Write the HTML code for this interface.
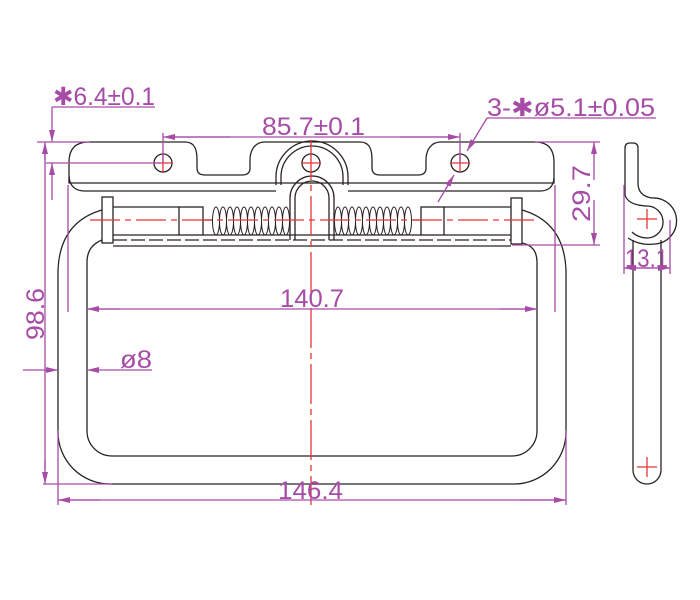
<!DOCTYPE html>
<html><head><meta charset="utf-8"><style>
html,body{margin:0;padding:0;background:#fff;}
svg{display:block}
text{font-family:"Liberation Sans","DejaVu Sans",sans-serif;fill:#a64ca6;}
</style></head><body>
<svg width="700" height="600" viewBox="0 0 700 600" xmlns="http://www.w3.org/2000/svg">
<defs>
<marker id="a" viewBox="0 0 12 6" refX="12" refY="3" markerWidth="12" markerHeight="6" markerUnits="userSpaceOnUse" orient="auto-start-reverse">
<path d="M0,0 L12,3 L0,6 Z" fill="#a64ca6"/></marker>
</defs>
<g fill="none" stroke="#2a2323" stroke-width="1.3">
<path d="M69,183 L69,162 Q69,142 89,142 L185,142 C195,142 197,150 197,160 L197,168 Q197,175 205,175 L242,175 Q250,175 250,168 L250,160 C250,150 255,142 265,142 L360,142 C370,142 372,150 372,160 L372,168 Q372,175 380,175 L418,175 Q426,175 426,168 L426,160 C426,150 431,142 441,142 L535,142 Q554,142 554,162 L554,183 Z"/>
<path d="M69,176 Q70,191 85,191 L276,191 M348,191 L540,191 Q553,191 554,178"/>
<path d="M276,185 L276,177 A36,36 0 0 1 348,177 L348,185"/>
<path d="M281,185 L281,177 A31,31 0 0 1 343,177 L343,185"/>
<path d="M290,240 L290,198 A22,22 0 0 1 334,198 L334,240"/>
<path d="M295,240 L295,198 A17,17 0 0 1 329,198 L329,240"/>
<circle cx="163" cy="163" r="9"/><circle cx="311" cy="163" r="9"/><circle cx="460" cy="163" r="9"/>
<rect x="102" y="197" width="11" height="46"/>
<rect x="511" y="198" width="11" height="46"/>
<path d="M113,207 L179,207 M113,235 L179,235"/>
<rect x="179" y="207" width="24" height="28"/>
<rect x="421" y="207" width="23" height="28"/>
<path d="M444,207 L511,207 M444,235 L511,235"/>
<path d="M203,220 L212,220 M413,220 L421,220"/>
<path d="M113,246 L511,246 M203,235 L421,235"/>
<path d="M113,240 L511,240" stroke-dasharray="14,4"/>
<g stroke-width="1">
<ellipse cx="216" cy="221" rx="3.5" ry="14"/><ellipse cx="223" cy="221" rx="3.5" ry="14"/><ellipse cx="230" cy="221" rx="3.5" ry="14"/><ellipse cx="237" cy="221" rx="3.5" ry="14"/><ellipse cx="244" cy="221" rx="3.5" ry="14"/><ellipse cx="251" cy="221" rx="3.5" ry="14"/><ellipse cx="258" cy="221" rx="3.5" ry="14"/><ellipse cx="265" cy="221" rx="3.5" ry="14"/><ellipse cx="272" cy="221" rx="3.5" ry="14"/><ellipse cx="279" cy="221" rx="3.5" ry="14"/><ellipse cx="286" cy="221" rx="3.5" ry="14"/>
<ellipse cx="338" cy="221" rx="3.5" ry="14"/><ellipse cx="345" cy="221" rx="3.5" ry="14"/><ellipse cx="352" cy="221" rx="3.5" ry="14"/><ellipse cx="359" cy="221" rx="3.5" ry="14"/><ellipse cx="366" cy="221" rx="3.5" ry="14"/><ellipse cx="373" cy="221" rx="3.5" ry="14"/><ellipse cx="380" cy="221" rx="3.5" ry="14"/><ellipse cx="387" cy="221" rx="3.5" ry="14"/><ellipse cx="394" cy="221" rx="3.5" ry="14"/><ellipse cx="401" cy="221" rx="3.5" ry="14"/><ellipse cx="408" cy="221" rx="3.5" ry="14"/>
</g>
<path d="M102,210 Q60,222 58,270 L58,432 A52,52 0 0 0 110,484 L514,484 A52,52 0 0 0 566,432 L566,270 Q564,222 522,210"/>
<path d="M102,240 Q87,246 87,262 L87,431 A25,25 0 0 0 112,456 L512,456 A25,25 0 0 0 537,431 L537,262 Q537,246 522,243"/>
<path d="M625,195 L625,148 Q625,143 630,143 L633,143 Q638,143 638,148 L638,183 Q638,196 652,198 A23,23 0 0 1 655,244 Q640,246 628,238"/>
<path d="M625,195 Q628,205 646,206 A16,16 0 0 1 648,238 Q638,238 632,232"/>
<path d="M633,240 L633,470 A14,14 0 0 0 661,470 L661,240"/>
</g>
<g stroke="#e83535" stroke-width="1.3" fill="none">
<path d="M311,140 L311,505" stroke-dasharray="40,5,6,5"/>
<path d="M90,220 L537,220" stroke-dasharray="30,5,6,5"/>
<path d="M153,163 H173 M163,153 V173 M301,163 H321 M450,163 H470 M460,153 V173 M637,219 H657 M647,209 V229 M637,467 H657 M647,457 V477"/>
</g>
<g stroke="#a64ca6" stroke-width="1.3" fill="none">
<path d="M163,133 V163 M460,133 V163"/>
<path d="M175,137 H448" />
<path d="M230,137 L163,137" marker-end="url(#a)"/><path d="M400,137 L460,137" marker-end="url(#a)"/>
<path d="M52,107 H155 M52,107 V142" marker-end="url(#a)"/>
<path d="M52,200 V163" marker-end="url(#a)"/>
<path d="M37,142 H90 M46,163 H160"/>
<path d="M45,160 V142" marker-end="url(#a)"/><path d="M45,460 V484" marker-end="url(#a)"/><path d="M45,150 V470"/>
<path d="M43,484 H112"/>
<path d="M68,185 V312 M555,185 V312"/>
<path d="M87,309 H537"/><path d="M120,309 L87,309" marker-end="url(#a)"/><path d="M500,309 L537,309" marker-end="url(#a)"/>
<path d="M23,370 H58" marker-end="url(#a)"/><path d="M152,370 H87" marker-end="url(#a)"/>
<path d="M58,430 V505 M566,430 V505"/>
<path d="M58,500 H566"/><path d="M100,500 L58,500" marker-end="url(#a)"/><path d="M520,500 L566,500" marker-end="url(#a)"/>
<path d="M535,142 H600 M512,245 H600"/>
<path d="M594,180 V142" marker-end="url(#a)"/><path d="M594,200 V245" marker-end="url(#a)"/>
<path d="M487,118 H656"/>
<path d="M487,118 L467,151" marker-end="url(#a)"/><path d="M438,202 L454,175" marker-end="url(#a)"/>
<path d="M624,185 V274 M670,220 V274"/>
<path d="M624,268 H670"/><path d="M650,268 L624,268" marker-end="url(#a)"/><path d="M645,268 L670,268" marker-end="url(#a)"/>
</g>
<g font-size="25">
<text x="53" y="105" textLength="102" lengthAdjust="spacingAndGlyphs">✱6.4±0.1</text>
<text x="262" y="135" textLength="103" lengthAdjust="spacingAndGlyphs">85.7±0.1</text>
<text x="487" y="116" textLength="168" lengthAdjust="spacingAndGlyphs">3-✱ø5.1±0.05</text>
<text x="280" y="307" textLength="64" lengthAdjust="spacingAndGlyphs">140.7</text>
<text x="120" y="368" textLength="32" lengthAdjust="spacingAndGlyphs">ø8</text>
<text x="278" y="499" textLength="65" lengthAdjust="spacingAndGlyphs">146.4</text>
<text x="625" y="267" textLength="43" lengthAdjust="spacingAndGlyphs">13.1</text>
<text transform="translate(44,340) rotate(-90)" textLength="52" lengthAdjust="spacingAndGlyphs">98.6</text>
<text transform="translate(590,222) rotate(-90)" textLength="57" lengthAdjust="spacingAndGlyphs">29.7</text>
</g>
</svg>
</body></html>
